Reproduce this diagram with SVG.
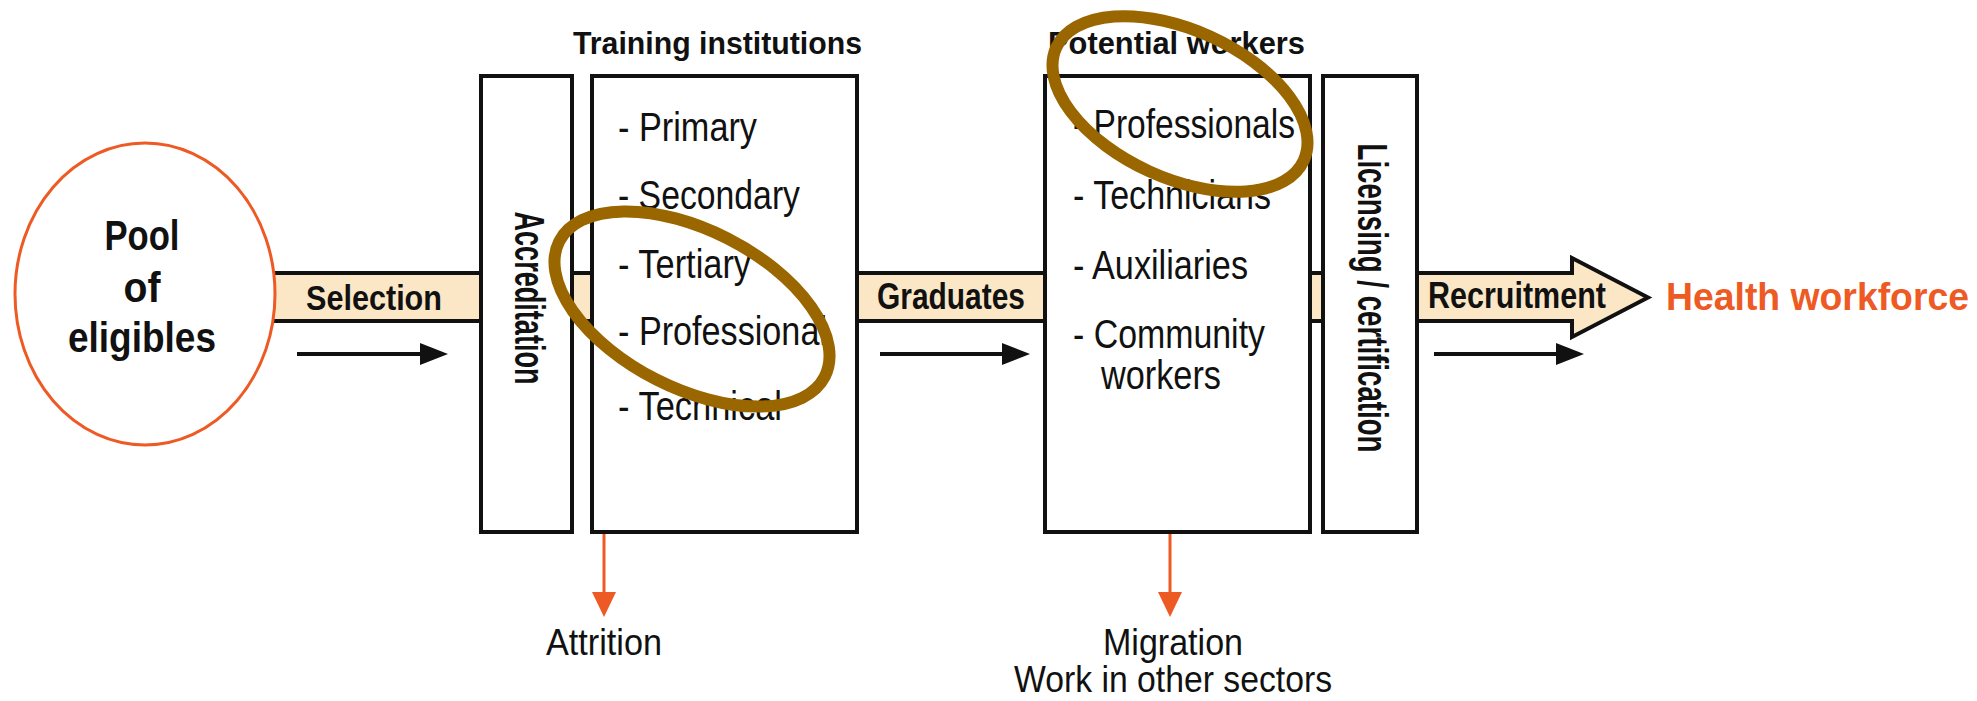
<svg xmlns="http://www.w3.org/2000/svg" width="1977" height="701" viewBox="0 0 1977 701">
  <style>
    .b { font-family: "Liberation Sans Narrow", "Liberation Sans", Arial, sans-serif; font-weight: bold; fill: #111; }
    .r { font-family: "Liberation Sans Narrow", "Liberation Sans", Arial, sans-serif; font-weight: normal; fill: #111; }
    .box { fill: #ffffff; stroke: #111; stroke-width: 4; }
    .band { fill: #FBE7C6; stroke: #111; stroke-width: 4; stroke-linejoin: miter; }
    .flow { stroke: #111; stroke-width: 4; fill: none; }
    .loss { stroke: #EE5A24; stroke-width: 3; fill: none; }
    .ring { fill: none; stroke: #996600; stroke-width: 12; }
  </style>
  <defs>
    <marker id="ah" markerUnits="userSpaceOnUse" markerWidth="28" markerHeight="22" refX="8" refY="11" orient="auto" viewBox="0 0 28 22">
      <path d="M0,0 L28,11 L0,22 z" fill="#111"/>
    </marker>
    <marker id="oh" markerUnits="userSpaceOnUse" markerWidth="25" markerHeight="24" refX="5" refY="12" orient="auto" viewBox="0 0 25 24">
      <path d="M0,0 L25,12 L0,24 z" fill="#EE5A24"/>
    </marker>
  </defs>
  <rect width="1977" height="701" fill="#ffffff"/>

  <g id="connectors">
    <polygon class="band" points="255,273 1572,273 1572,258 1648,297.5 1572,337 1572,321 255,321"/>
    <line class="flow" x1="297" y1="354" x2="428" y2="354" marker-end="url(#ah)"/>
    <line class="flow" x1="880" y1="354" x2="1010" y2="354" marker-end="url(#ah)"/>
    <line class="flow" x1="1434" y1="354" x2="1564" y2="354" marker-end="url(#ah)"/>
    <line class="loss" x1="604" y1="534" x2="604" y2="597" marker-end="url(#oh)"/>
    <line class="loss" x1="1170" y1="534" x2="1170" y2="597" marker-end="url(#oh)"/>
    <text class="b" x="306" y="310" font-size="35" textLength="136" lengthAdjust="spacingAndGlyphs">Selection</text>
    <text class="b" x="877" y="309" font-size="37" textLength="148" lengthAdjust="spacingAndGlyphs">Graduates</text>
    <text class="b" x="1428" y="308" font-size="37" textLength="178" lengthAdjust="spacingAndGlyphs">Recruitment</text>
  </g>

  <g id="pool">
    <ellipse cx="145" cy="294" rx="130" ry="151" fill="#ffffff" stroke="#EE5A24" stroke-width="3"/>
    <text class="b" x="142" y="250" font-size="43" text-anchor="middle" textLength="75" lengthAdjust="spacingAndGlyphs">Pool</text>
    <text class="b" x="142" y="302" font-size="43" text-anchor="middle" textLength="37" lengthAdjust="spacingAndGlyphs">of</text>
    <text class="b" x="142" y="352" font-size="43" text-anchor="middle" textLength="148" lengthAdjust="spacingAndGlyphs">eligibles</text>
  </g>

  <g id="accreditation">
    <rect class="box" x="481" y="76" width="91" height="456"/>
    <text class="b" transform="translate(515,298) rotate(90)" x="0" y="0" font-size="43" text-anchor="middle" textLength="173" lengthAdjust="spacingAndGlyphs">Accreditation</text>
  </g>

  <g id="training">
    <text class="b" x="573" y="54" font-size="32" textLength="289" lengthAdjust="spacingAndGlyphs">Training institutions</text>
    <rect class="box" x="592" y="76" width="265" height="456"/>
    <text class="r" x="618" y="141" font-size="40" textLength="139" lengthAdjust="spacingAndGlyphs">- Primary</text>
    <text class="r" x="618" y="209" font-size="40" textLength="182" lengthAdjust="spacingAndGlyphs">- Secondary</text>
    <text class="r" x="618" y="278" font-size="40" textLength="133" lengthAdjust="spacingAndGlyphs">- Tertiary</text>
    <text class="r" x="618" y="345" font-size="40" textLength="209" lengthAdjust="spacingAndGlyphs">- Professional</text>
    <text class="r" x="618" y="420" font-size="40" textLength="164" lengthAdjust="spacingAndGlyphs">- Technical</text>
  </g>

  <g id="potential">
    <text class="b" x="1048" y="54" font-size="32" textLength="257" lengthAdjust="spacingAndGlyphs">Potential workers</text>
    <rect class="box" x="1045" y="76" width="265" height="456"/>
    <text class="r" x="1073" y="138" font-size="40" textLength="222" lengthAdjust="spacingAndGlyphs">- Professionals</text>
    <text class="r" x="1073" y="209" font-size="40" textLength="198" lengthAdjust="spacingAndGlyphs">- Technicians</text>
    <text class="r" x="1073" y="279" font-size="40" textLength="175" lengthAdjust="spacingAndGlyphs">- Auxiliaries</text>
    <text class="r" x="1073" y="348" font-size="40" textLength="192" lengthAdjust="spacingAndGlyphs">- Community</text>
    <text class="r" x="1101" y="389" font-size="40" textLength="120" lengthAdjust="spacingAndGlyphs">workers</text>
  </g>

  <g id="licensing">
    <rect class="box" x="1323" y="76" width="94" height="456"/>
    <text class="b" transform="translate(1358,298) rotate(90)" x="0" y="0" font-size="42" text-anchor="middle" textLength="309" lengthAdjust="spacingAndGlyphs">Licensing / certification</text>
  </g>

  <g id="health-workforce">
    <text class="b" x="1666" y="310" font-size="38" style="fill:#EE5A24" textLength="303" lengthAdjust="spacingAndGlyphs">Health workforce</text>
  </g>

  <g id="attrition">
    <text class="r" x="604" y="655" font-size="37" text-anchor="middle" textLength="116" lengthAdjust="spacingAndGlyphs">Attrition</text>
  </g>

  <g id="migration">
    <text class="r" x="1173" y="655" font-size="37" text-anchor="middle" textLength="140" lengthAdjust="spacingAndGlyphs">Migration</text>
    <text class="r" x="1173" y="692" font-size="36" text-anchor="middle" textLength="318" lengthAdjust="spacingAndGlyphs">Work in other sectors</text>
  </g>

  <g id="highlights">
    <ellipse class="ring" cx="692" cy="309" rx="149" ry="79" transform="rotate(27 692 309)"/>
    <ellipse class="ring" cx="1180" cy="104" rx="136" ry="74" transform="rotate(24.5 1180 104)"/>
  </g>
</svg>
